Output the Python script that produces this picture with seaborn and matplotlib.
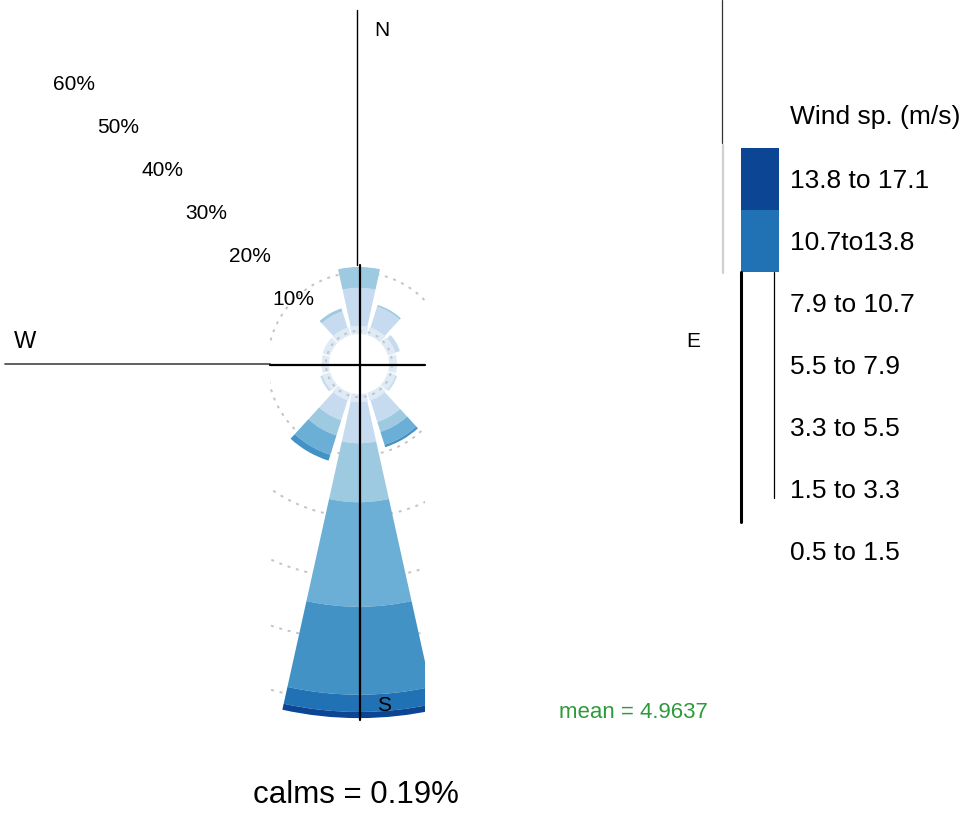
import numpy as np
import matplotlib
matplotlib.use("Agg")
import matplotlib.pyplot as plt
import seaborn as sns
from matplotlib.patches import Rectangle

# Wind rose data: 12 sectors, % of time for each speed band
directions = [0, 30, 60, 90, 120, 150, 180, 210, 240, 270, 300, 330]
speed_bins = ["0.5 to 1.5", "1.5 to 3.3", "3.3 to 5.5", "5.5 to 7.9",
              "7.9 to 10.7", "10.7to13.8", "13.8 to 17.1"]
freq_05_15 = [1.3, 1.3, 1.3, 1.3, 1.3, 1.3, 1.3, 1.3, 1.3, 1.2, 1.3, 1.3]
freq_15_33 = [6.2, 3.6, 0.8, 0.0, 0.3, 3.7, 6.7, 3.4, 0.4, 0.0, 0.0, 2.8]
freq_33_55 = [3.4, 0.3, 0.0, 0.0, 0.0, 1.7, 9.6, 2.6, 0.0, 0.0, 0.0, 0.5]
freq_55_79 = [0.0, 0.0, 0.0, 0.0, 0.0, 2.2, 17.0, 3.3, 0.0, 0.0, 0.0, 0.0]
freq_79_107 = [0.0, 0.0, 0.0, 0.0, 0.0, 0.4, 14.3, 1.0, 0.0, 0.0, 0.0, 0.0]
freq_107_138 = [0.0, 0.0, 0.0, 0.0, 0.0, 0.0, 2.8, 0.0, 0.0, 0.0, 0.0, 0.0]
freq_138_171 = [0.0, 0.0, 0.0, 0.0, 0.0, 0.0, 1.0, 0.0, 0.0, 0.0, 0.0, 0.0]
pct_ticks = [10, 20, 30, 40, 50, 60]
calms = 0.19
mean_speed = 4.9637

sns.set_theme(style="white")
plt.rcParams["font.family"] = ["Liberation Sans", "DejaVu Sans"]
plt.rcParams["text.color"] = "black"

colors = sns.color_palette(["#deebf7", "#c6dbef", "#9ecae1", "#6baed6",
                            "#4292c6", "#2171b5", "#0b4594"])
bands = [freq_05_15, freq_15_33, freq_33_55, freq_55_79,
         freq_79_107, freq_107_138, freq_138_171]

W, H = 967, 813
fig = plt.figure(figsize=(W / 100, H / 100), dpi=100)

# polar axes centred at (359, 364) px; 1 % = 6.15 px, hollow centre of 30 px
cx, cy, k, r0, rmax = 359, 364, 6.15, 30, 62
R = rmax * k + r0
ax = fig.add_axes([(cx - R) / W, (H - cy - R) / H, 2 * R / W, 2 * R / H],
                  projection="polar")
ax.set_theta_zero_location("N")
ax.set_theta_direction(-1)
ax.set_rlim(0, rmax)
ax.set_rorigin(-r0 / k)
ax.set_axis_off()

clip = Rectangle((270 / W, (H - 720) / H), 155 / W, 457 / H,
                 transform=fig.transFigure)

theta = np.deg2rad(directions)
bottom = np.zeros(len(directions))
for i, (vals, col) in enumerate(zip(bands, colors)):
    w = 28 if i == 0 else 25
    bars = ax.bar(theta, vals, width=np.deg2rad(w), bottom=bottom,
                  color=col, linewidth=0, zorder=2)
    for b in bars:
        b.set_clip_path(clip)
    bottom += np.array(vals)

circ = np.linspace(0, 2 * np.pi, 400)
for p in [0.5] + pct_ticks:
    ln, = ax.plot(circ, np.full_like(circ, p), color="#c4c4c4", lw=1.4,
                  linestyle=(0, (1.5, 3)), zorder=3 if p < 1 else 1)
    ln.set_clip_path(clip)

for p in pct_ticks:
    ax.text(np.deg2rad(314.5), p, f"{p}%", fontsize=15, ha="center",
            va="center")

# overlay in pixel coordinates for the frame pieces and labels
ov = fig.add_axes([0, 0, 1, 1])
ov.set_xlim(0, W)
ov.set_ylim(H, 0)
ov.axis("off")

ov.plot([357, 357], [10, 265], color="black", lw=1)
ov.plot([360, 360], [265, 720], color="black", lw=1.6)
ov.plot([5, 270], [364, 364], color="#444444", lw=1.2)
ov.plot([270, 425], [365, 365], color="black", lw=1.6)
ov.plot([722, 722], [0, 143], color="#333333", lw=0.9)
ov.plot([723, 723], [145, 273], color="#d0d0d0", lw=1.6)

ov.text(382, 30, "N", fontsize=15, ha="center", va="center")
ov.text(25, 342, "W", fontsize=17, ha="center", va="center")
ov.text(693, 341, "E", fontsize=15, ha="center", va="center")
ov.text(384, 705, "S", fontsize=15, ha="center", va="center")

# legend (top two swatches only)
ov.text(790, 117, "Wind sp. (m/s)", fontsize=19, ha="left", va="center")
for i, lab in enumerate(speed_bins[::-1]):
    ov.text(790, 181 + 62 * i, lab, fontsize=19, ha="left", va="center")
for i, col in enumerate(colors[::-1][:2]):
    ov.add_patch(Rectangle((741, 148 + 62 * i), 38, 62, color=col, lw=0))
ov.plot([741, 741], [272, 522], color="black", lw=2.2)
ov.plot([774, 774], [272, 498], color="black", lw=0.9)

ov.text(633, 712, f"mean = {mean_speed}", fontsize=16, ha="center",
        va="center", color="#2e9a3c")
ov.text(356, 795, f"calms = {calms}%", fontsize=22.5, ha="center",
        va="center")

fig.savefig("out.png", dpi=100)
